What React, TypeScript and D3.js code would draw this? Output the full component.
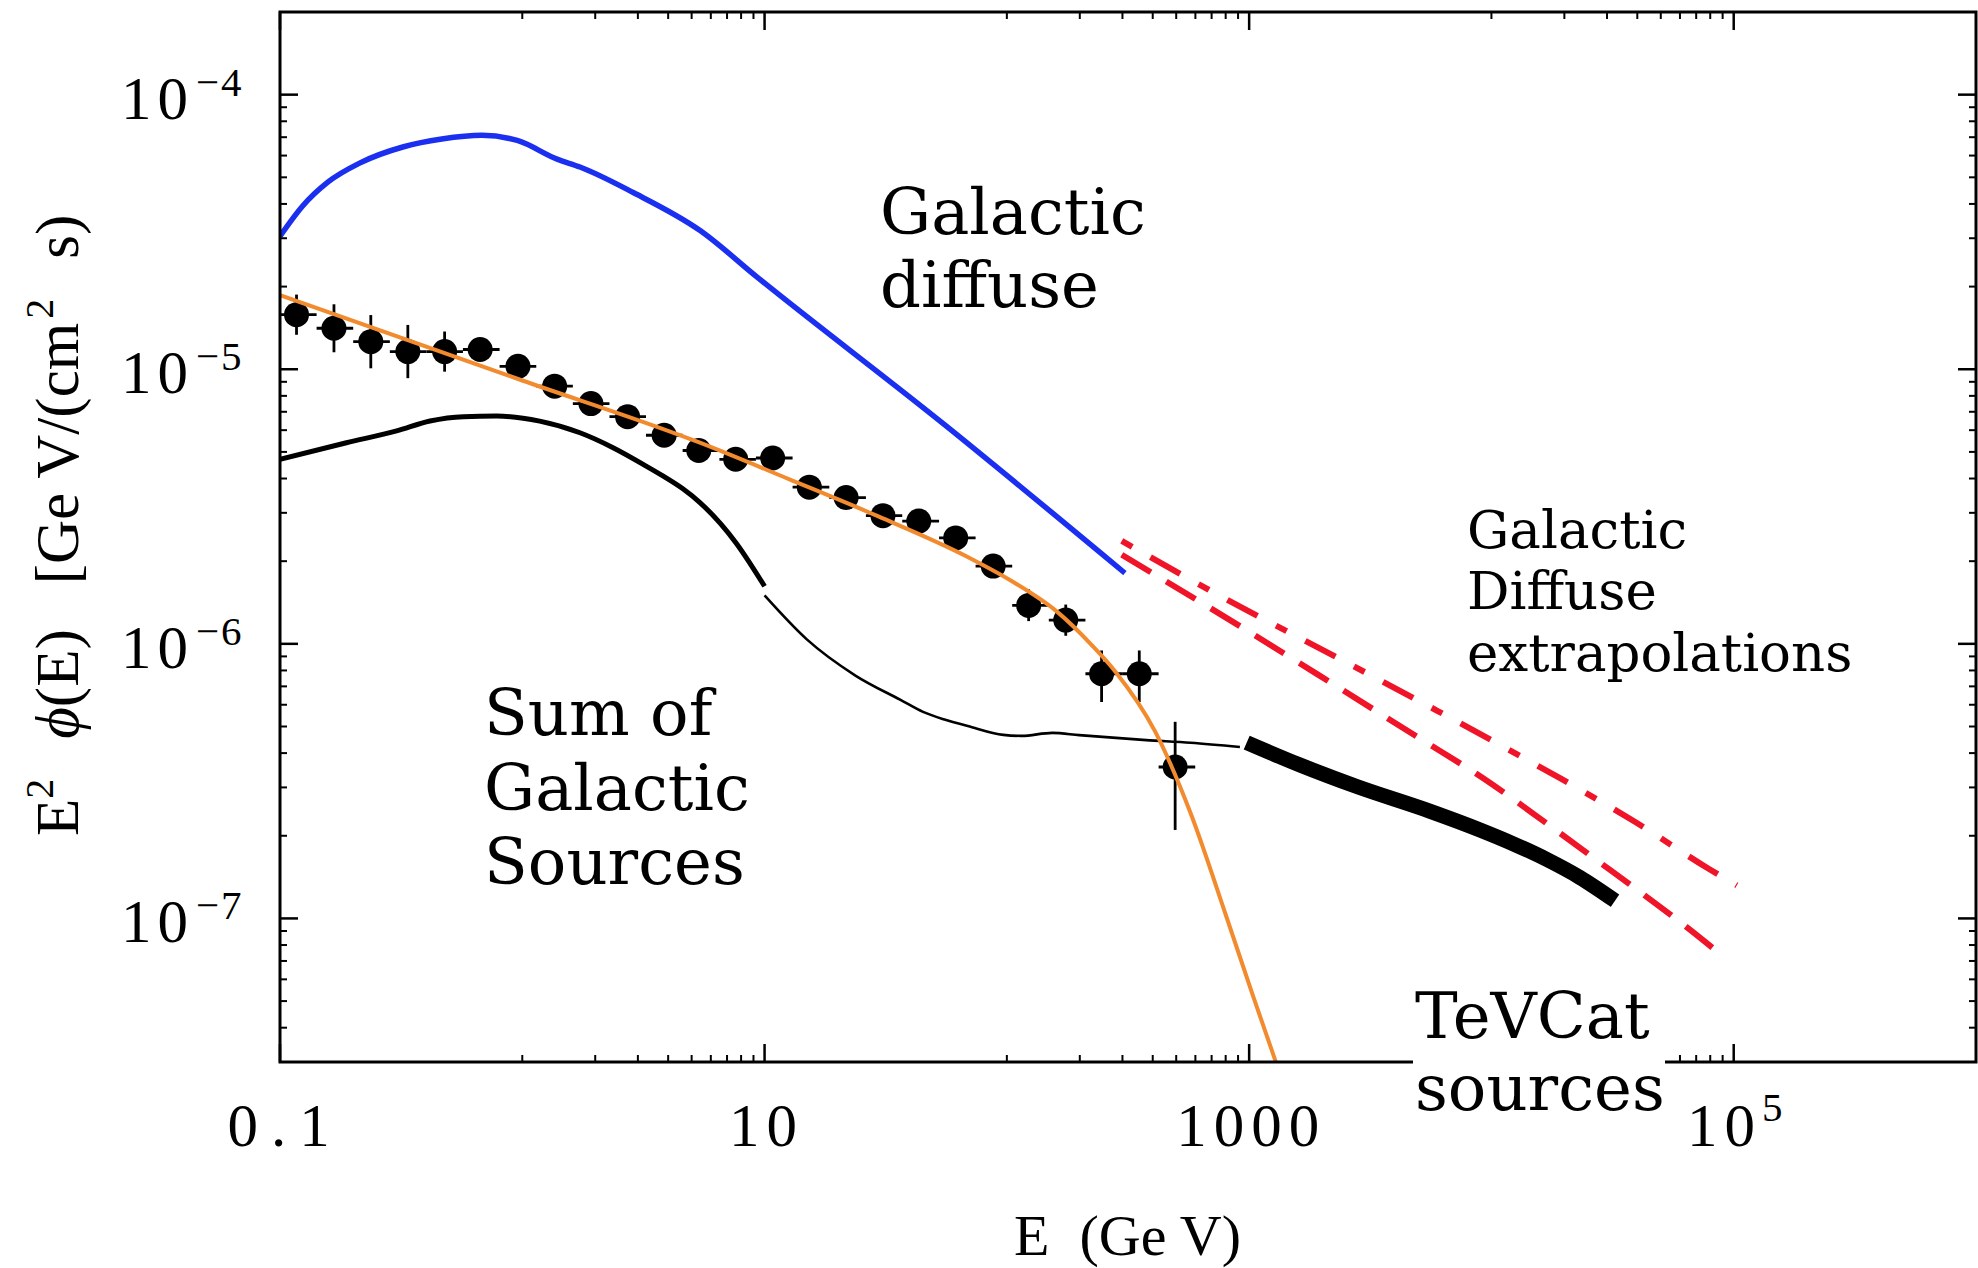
import React from 'react';
import * as d3 from 'd3';

const WIDTH = 1978;
const HEIGHT = 1268;
const PLOT = { left: 280, right: 1976, top: 12, bottom: 1062 };

// ---- axis ticks ----
const xTickMajor = [0.1, 10, 1000, 1e5];
const xTickParts = [['0', '.', '1'], ['10'], ['1000'], ['10']];
const xTickExp = ['', '', '', '5'];
const xTickMinor = [1, 2, 3, 4, 5, 6, 7, 8, 9, 100, 200, 300, 400, 500, 600, 700, 800, 900, 10000, 20000, 30000, 40000, 50000, 60000, 70000, 80000, 90000];
const yTickMajor = [1e-4, 1e-5, 1e-6, 1e-7];
const yTickExp = ['\u22124', '\u22125', '\u22126', '\u22127'];
const yTickMinor = [3e-8, 4e-8, 5e-8, 6e-8, 7e-8, 8e-8, 9e-8, 2e-7, 3e-7, 4e-7, 5e-7, 6e-7, 7e-7, 8e-7, 9e-7, 2e-6, 3e-6, 4e-6, 5e-6, 6e-6, 7e-6, 8e-6, 9e-6, 2e-5, 3e-5, 4e-5, 5e-5, 6e-5, 7e-5, 8e-5, 9e-5];

// ---- measured data points (E in GeV, E^2 phi) ----
const dataEnergy = [0.117, 0.167, 0.237, 0.337, 0.478, 0.670, 0.960, 1.36, 1.92, 2.72, 3.85, 5.35, 7.6, 10.8, 15.3, 21.7, 30.8, 43.3, 61.5, 87.8, 123, 175, 246, 352, 495];
const dataFlux = [1.58e-5, 1.41e-5, 1.26e-5, 1.16e-5, 1.16e-5, 1.18e-5, 1.025e-5, 8.68e-6, 7.5e-6, 6.72e-6, 5.75e-6, 5.06e-6, 4.70e-6, 4.75e-6, 3.72e-6, 3.41e-6, 2.93e-6, 2.80e-6, 2.43e-6, 1.92e-6, 1.38e-6, 1.22e-6, 7.78e-7, 7.78e-7, 3.56e-7];
const dataFluxLow = [1.335e-5, 1.153e-5, 1.008e-5, 0.928e-5, 0.98e-5, 1.086e-5, 0.953e-5, 8.07e-6, 6.98e-6, 6.25e-6, 5.35e-6, 4.71e-6, 4.37e-6, 4.42e-6, 3.46e-6, 3.17e-6, 2.72e-6, 2.60e-6, 2.26e-6, 1.77e-6, 1.21e-6, 1.07e-6, 6.14e-7, 6.14e-7, 2.10e-7];
const dataFluxHigh = [1.87e-5, 1.724e-5, 1.575e-5, 1.45e-5, 1.372e-5, 1.283e-5, 1.10e-5, 9.33e-6, 8.06e-6, 7.22e-6, 6.18e-6, 5.44e-6, 5.05e-6, 5.11e-6, 4.0e-6, 3.67e-6, 3.15e-6, 3.01e-6, 2.61e-6, 2.08e-6, 1.58e-6, 1.39e-6, 9.46e-7, 9.46e-7, 5.2e-7];
const binEdges = [0.1, 0.1416, 0.2005, 0.284, 0.402, 0.569, 0.806, 1.142, 1.617, 2.29, 3.24, 4.59, 6.51, 9.21, 13.05, 18.5, 26.2, 37.0, 52.5, 74.3, 105.2, 149, 211, 299, 423, 599];

// ---- Galactic diffuse model (blue) ----
const diffuseE = [0.1, 0.124, 0.158, 0.213, 0.324, 0.465, 0.681, 0.953, 1.40, 1.73, 2.87, 5.42, 9.29, 56.1, 307];
const diffuseF = [3.05e-5, 3.93e-5, 4.81e-5, 5.63e-5, 6.46e-5, 6.89e-5, 7.11e-5, 6.81e-5, 5.81e-5, 5.45e-5, 4.40e-5, 3.20e-5, 2.17e-5, 6.22e-6, 1.81e-6];

// ---- fit to data (orange) ----
const fitE = [0.1, 1.0, 5.41, 12.6, 29.5, 69.0, 105, 161, 225, 279, 409, 574, 807, 1040, 1285, 1426];
const fitF = [1.86e-5, 9.1e-6, 5.40e-6, 3.98e-6, 2.91e-6, 2.07e-6, 1.69e-6, 1.31e-6, 9.86e-7, 7.97e-7, 4.80e-7, 2.41e-7, 1.01e-7, 5.19e-8, 3.02e-8, 2.32e-8];

// ---- Sum of Galactic sources (black) ----
const sourcesLowE = [0.1, 0.188, 0.303, 0.416, 0.571, 0.784, 1.18, 1.73, 2.37, 3.26, 3.82, 4.60, 5.41, 7.60, 10];
const sourcesLowF = [4.70e-6, 5.40e-6, 5.96e-6, 6.48e-6, 6.72e-6, 6.75e-6, 6.47e-6, 5.87e-6, 5.18e-6, 4.43e-6, 4.08e-6, 3.67e-6, 3.27e-6, 2.34e-6, 1.62e-6];
const sourcesMidE = [10, 14.9, 23.8, 36.4, 45.1, 55.7, 69.0, 96.8, 115, 154, 199, 376, 573, 916];
const sourcesMidF = [1.50e-6, 1.04e-6, 7.65e-7, 6.25e-7, 5.65e-7, 5.29e-7, 5.02e-7, 4.66e-7, 4.62e-7, 4.74e-7, 4.65e-7, 4.46e-7, 4.36e-7, 4.21e-7];
const tevcatE = [977, 1622, 2818, 5559, 8974, 12303, 16904, 23174, 32359];
const tevcatF = [4.37e-7, 3.62e-7, 3.01e-7, 2.46e-7, 2.10e-7, 1.87e-7, 1.64e-7, 1.41e-7, 1.16e-7];

// ---- Galactic diffuse extrapolations (red) ----
const extrapDashDotE = [298, 807, 2190, 6030, 12500, 19200, 39100, 78500, 103000];
const extrapDashDotF = [2.37e-6, 1.45e-6, 9.14e-7, 5.68e-7, 4.00e-7, 3.24e-7, 2.25e-7, 1.52e-7, 1.32e-7];
const extrapDashE = [298, 916, 2190, 5150, 9250, 18000, 27200, 41000, 61000, 90600];
const extrapDashF = [2.11e-6, 1.16e-6, 7.19e-7, 4.48e-7, 3.24e-7, 2.13e-7, 1.63e-7, 1.25e-7, 9.60e-8, 7.26e-8];

const SERIF = "'Liberation Serif', 'Times New Roman', serif";
const DEJAVU = "'DejaVu Serif', serif";

export default function App() {
  const x = d3.scaleLog().domain([0.1, 1e6]).range([PLOT.left, PLOT.right]);
  const y = d3.scaleLog().domain([3e-8, 2e-4]).range([PLOT.bottom, PLOT.top]);

  const path = (E: number[], F: number[]) =>
    d3
      .line<number>()
      .x((i) => x(E[i]))
      .y((i) => y(F[i]))
      .curve(d3.curveMonotoneX)(E.map((_, i) => i)) || '';

  const majorLen = 18;
  const minorLen = 7;

  return (
    <svg
      width={WIDTH}
      height={HEIGHT}
      style={{ position: 'absolute', left: 0, top: 0, background: '#fff' }}
      xmlns="http://www.w3.org/2000/svg"
    >
      <defs>
        <clipPath id="plotClip">
          <rect x={PLOT.left} y={PLOT.top} width={PLOT.right - PLOT.left} height={PLOT.bottom - PLOT.top} />
        </clipPath>
      </defs>
      <rect x={0} y={0} width={WIDTH} height={HEIGHT} fill="#fff" />

      <g clipPath="url(#plotClip)" fill="none">
        {/* Galactic diffuse */}
        <path d={path(diffuseE, diffuseF)} stroke="#1a2ff0" strokeWidth={5.5} />
        {/* extrapolations */}
        <path d={path(extrapDashDotE, extrapDashDotF)} stroke="#f01428" strokeWidth={6} strokeDasharray="12 21 34 21" />
        <path d={path(extrapDashE, extrapDashF)} stroke="#f01428" strokeWidth={6} strokeDasharray="34 18" />
        {/* sum of galactic sources */}
        <path d={path(sourcesLowE, sourcesLowF)} stroke="#000" strokeWidth={5} />
        <path d={path(sourcesMidE, sourcesMidF)} stroke="#000" strokeWidth={2.6} />
        <path d={path(tevcatE, tevcatF)} stroke="#000" strokeWidth={15} />

        {/* data points */}
        <g stroke="#000" strokeWidth={2.8}>
          {dataEnergy.map((e, i) => (
            <g key={i}>
              <line x1={x(e)} x2={x(e)} y1={y(dataFluxLow[i])} y2={y(dataFluxHigh[i])} />
              <line x1={x(binEdges[i])} x2={x(binEdges[i + 1])} y1={y(dataFlux[i])} y2={y(dataFlux[i])} />
              <circle cx={x(e)} cy={y(dataFlux[i])} r={12.5} fill="#000" stroke="none" />
            </g>
          ))}
        </g>

        {/* fit */}
        <path d={path(fitE, fitF)} stroke="#f28a2e" strokeWidth={4} />
      </g>

      {/* axes frame */}
      <rect
        x={PLOT.left}
        y={PLOT.top}
        width={PLOT.right - PLOT.left}
        height={PLOT.bottom - PLOT.top}
        fill="none"
        stroke="#000"
        strokeWidth={3}
      />
      <g stroke="#000" strokeWidth={2.5}>
        {xTickMajor.map((v, i) => (
          <g key={'xM' + i}>
            <line x1={x(v)} x2={x(v)} y1={PLOT.bottom} y2={PLOT.bottom - majorLen} />
            <line x1={x(v)} x2={x(v)} y1={PLOT.top} y2={PLOT.top + majorLen} />
          </g>
        ))}
        {xTickMinor.map((v, i) => (
          <g key={'xm' + i}>
            <line x1={x(v)} x2={x(v)} y1={PLOT.bottom} y2={PLOT.bottom - minorLen} strokeWidth={2} />
            <line x1={x(v)} x2={x(v)} y1={PLOT.top} y2={PLOT.top + minorLen} strokeWidth={2} />
          </g>
        ))}
        {yTickMajor.map((v, i) => (
          <g key={'yM' + i}>
            <line x1={PLOT.left} x2={PLOT.left + majorLen} y1={y(v)} y2={y(v)} />
            <line x1={PLOT.right} x2={PLOT.right - majorLen} y1={y(v)} y2={y(v)} />
          </g>
        ))}
        {yTickMinor.map((v, i) => (
          <g key={'ym' + i}>
            <line x1={PLOT.left} x2={PLOT.left + minorLen} y1={y(v)} y2={y(v)} strokeWidth={2} />
            <line x1={PLOT.right} x2={PLOT.right - minorLen} y1={y(v)} y2={y(v)} strokeWidth={2} />
          </g>
        ))}
      </g>

      {/* tick labels */}
      <g fontFamily={SERIF} fill="#000">
        {yTickMajor.map((v, i) => (
          <text key={'yl' + i} x={121} y={y(v) + 24} fontSize={61} letterSpacing={6}>
            10
            <tspan dx={2} dy={-23} fontSize={41} letterSpacing={2}>
              {yTickExp[i]}
            </tspan>
          </text>
        ))}
        {xTickMajor.map((v, i) => (
          <text key={'xl' + i} x={x(v) + 2} y={1146} fontSize={61} letterSpacing={7} textAnchor="middle">
            {xTickParts[i].map((p, j) => (
              <tspan key={j} dx={j > 0 ? 6 : 0}>
                {p}
              </tspan>
            ))}
            {xTickExp[i] ? (
              <tspan dx={0} dy={-25} fontSize={41} letterSpacing={2}>
                {xTickExp[i]}
              </tspan>
            ) : null}
          </text>
        ))}
      </g>

      {/* axis titles */}
      <text x={1014} y={1255} fontFamily={SERIF} fontSize={58}>
        E<tspan dx={30}>(Ge V)</tspan>
      </text>
      <text transform="translate(78,836) rotate(-90)" fontFamily={SERIF} fontSize={61}>
        E
        <tspan dy={-25} fontSize={40}>2</tspan>
        <tspan dx={40} dy={25} fontStyle="italic">
          {'\u03d5'}
        </tspan>
        <tspan>(E)</tspan>
        <tspan dx={45}>[Ge V/(cm</tspan>
        <tspan dx={4} dy={-25} fontSize={40}>2</tspan>
        <tspan dx={40} dy={25}>s)</tspan>
      </text>

      {/* annotations */}
      <g fontFamily={DEJAVU} fill="#000">
        <text x={880} y={234} fontSize={64}>Galactic</text>
        <text x={880} y={307} fontSize={64}>diffuse</text>

        <text x={484} y={735} fontSize={64}>Sum of</text>
        <text x={484} y={810} fontSize={64}>Galactic</text>
        <text x={484} y={884} fontSize={64}>Sources</text>

        <text x={1467} y={548} fontSize={53}>Galactic</text>
        <text x={1467} y={609} fontSize={53}>Diffuse</text>
        <text x={1467} y={671} fontSize={53}>extrapolations</text>

        <rect x={1413} y={985} width={252} height={140} fill="#fff" />
        <text x={1415} y={1038} fontSize={64}>TeVCat</text>
        <text x={1415} y={1110} fontSize={64}>sources</text>
      </g>
    </svg>
  );
}
